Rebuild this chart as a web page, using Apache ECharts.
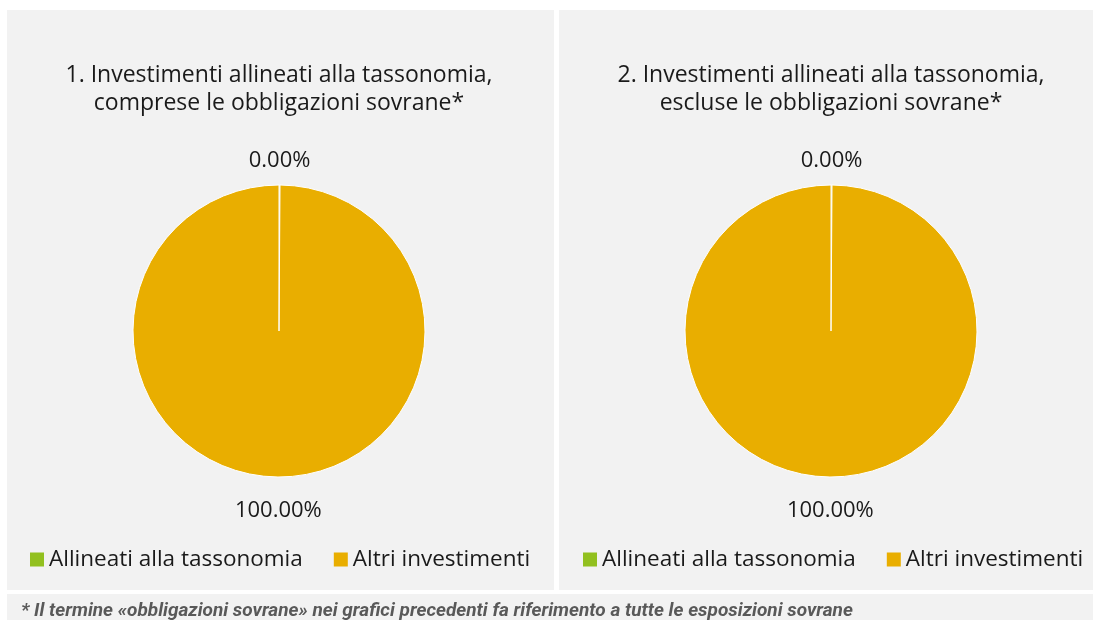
<!DOCTYPE html>
<html>
<head>
<meta charset="utf-8">
<script src="https://cdn.jsdelivr.net/npm/echarts@6/dist/echarts.min.js"></script>
<style>
  html, body { margin: 0; padding: 0; background: #fff; }
  #chart { width: 1093px; height: 620px; }
</style>
</head>
<body>
<div id="chart"></div>
<script>
const categories = ['Allineati alla tassonomia', 'Altri investimenti']
const inclSovereign = [0, 100]
const exclSovereign = [0, 100]
const chartTitles = [
  '1. Investimenti allineati alla tassonomia,\ncomprese le obbligazioni sovrane*',
  '2. Investimenti allineati alla tassonomia,\nescluse le obbligazioni sovrane*'
]
const footnote = '* Il termine «obbligazioni sovrane» nei grafici precedenti fa riferimento a tutte le esposizioni sovrane'
const colors = ['#92C01F', '#E9AE00']

// distance of the % label from the pie edge, top / bottom label
const labelGaps = [24, 34]
const FONT = 'Open Sans'
const textColor = '#1a1a1a'

const chart = echarts.init(document.getElementById('chart'))

const toData = values => categories.map((name, i) => ({
  name,
  value: values[i],
  labelLine: { length: labelGaps[i] }
}))

const pieSeries = (values, center) => ({
  type: 'pie',
  radius: 146,
  center: center,
  startAngle: 90,
  clockwise: true,
  minAngle: 0.4,
  avoidLabelOverlap: false,
  stillShowZeroSum: true,
  silent: true,
  itemStyle: {
    borderColor: '#ffffff',
    borderWidth: 1
  },
  label: {
    show: true,
    position: 'outside',
    formatter: p => p.value.toFixed(2) + '%',
    fontFamily: FONT,
    fontSize: 22,
    color: textColor,
    distanceToLabelLine: 0
  },
  labelLine: { show: false, length2: 0 },
  labelLayout: () => ({ align: 'center' }),
  data: toData(values)
})

const legendCommon = {
  icon: 'rect',
  itemWidth: 14,
  itemHeight: 14,
  itemGap: 31,
  padding: 0,
  itemStyle: { borderWidth: 0 },
  textStyle: { fontFamily: FONT, fontSize: 22.5, color: textColor },
  data: categories
}

const titleStyle = { fontFamily: FONT, fontWeight: 'normal', fontSize: 23, lineHeight: 28, color: textColor }

const option = {
  animation: false,
  color: colors,
  graphic: [
    { type: 'rect', shape: { x: 7, y: 10, width: 547, height: 580 }, style: { fill: '#F2F2F2' }, z: -10 },
    { type: 'rect', shape: { x: 559, y: 10, width: 534, height: 580 }, style: { fill: '#F2F2F2' }, z: -10 },
    { type: 'rect', shape: { x: 7, y: 594, width: 1086, height: 26 }, style: { fill: '#F2F2F2' }, z: -10 }
  ],
  title: [
    { text: chartTitles[0], left: 279, top: 61, padding: 0, textAlign: 'center', textStyle: titleStyle },
    { text: chartTitles[1], left: 831, top: 61, padding: 0, textAlign: 'center', textStyle: titleStyle },
    {
      text: footnote,
      left: 21, top: 602, padding: 0,
      textStyle: { fontFamily: 'Roboto', fontStyle: 'italic', fontWeight: 'bold', fontSize: 19, color: '#595959' }
    }
  ],
  legend: [
    Object.assign({ left: 30, top: 548 }, legendCommon),
    Object.assign({ left: 583, top: 548 }, legendCommon)
  ],
  series: [
    pieSeries(inclSovereign, [279, 331]),
    pieSeries(exclSovereign, [831, 331])
  ]
}

chart.setOption(option)
window.addEventListener('resize', () => {
  chart.resize()
})
</script>
</body>
</html>
